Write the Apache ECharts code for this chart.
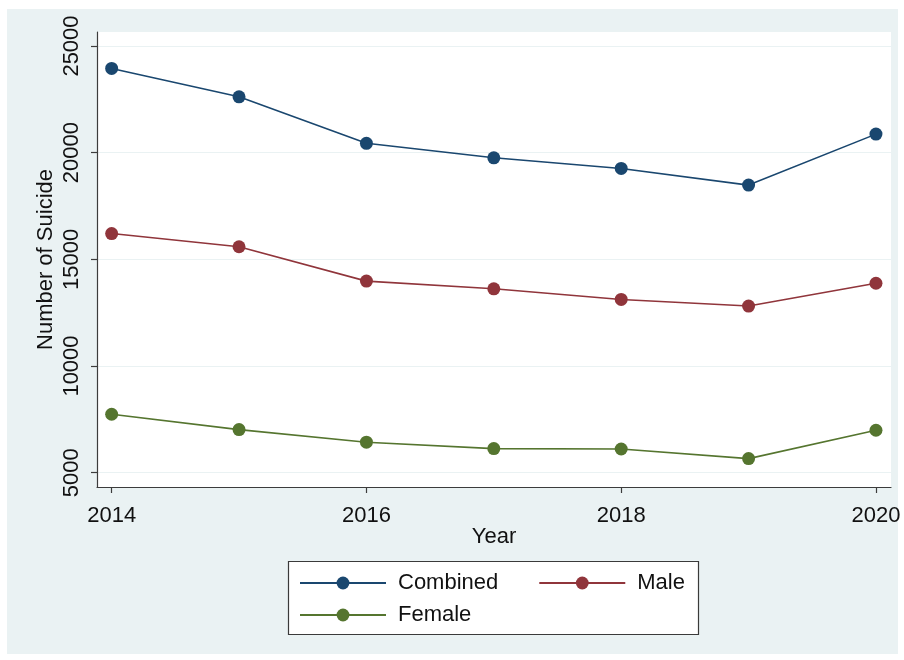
<!DOCTYPE html>
<html>
<head>
<meta charset="utf-8">
<script src="https://cdn.jsdelivr.net/npm/echarts@6/dist/echarts.min.js"></script>
<style>
  html, body { margin: 0; padding: 0; background: #ffffff; }
  #chart { width: 904px; height: 660px; }
</style>
</head>
<body>
<div id="chart"></div>
<script>
// Annual suicide counts, 2014-2020
const years = [2014, 2015, 2016, 2017, 2018, 2019, 2020];
const combined = [23950, 22620, 20440, 19760, 19260, 18480, 20870];
const male = [16210, 15590, 13980, 13620, 13120, 12810, 13880];
const female = [7740, 7020, 6430, 6130, 6110, 5660, 6990];

const xTicks = [2014, 2016, 2018, 2020];
const yTicks = [5000, 10000, 15000, 20000, 25000];

const FONT = '"Liberation Sans", Arial, sans-serif';
const AXIS = '#3c3c3c';

function pairs(vals) { return years.map((y, i) => [y, vals[i]]); }

function lineSeries(name, vals, color) {
  return {
    name: name,
    type: 'line',
    data: pairs(vals),
    symbol: 'circle',
    symbolSize: 13,
    lineStyle: { color: color, width: 1.6 },
    itemStyle: { color: color },
    emphasis: { disabled: true },
    animation: false
  };
}

const legendText = { fontSize: 22, color: '#111', fontFamily: FONT, padding: [0, 0, 0, 7] };

const chart = echarts.init(document.getElementById('chart'), null, { renderer: 'canvas' });
chart.setOption({
  backgroundColor: '#ffffff',
  textStyle: { fontFamily: FONT },
  grid: {
    left: 97, top: 32, right: 13, bottom: 173,
    outerBoundsMode: 'none',
    show: true, backgroundColor: '#ffffff', borderWidth: 0
  },
  xAxis: {
    type: 'value',
    min: 2013.885, max: 2020.118,
    name: 'Year', nameLocation: 'middle', nameGap: 39, nameMoveOverlap: false,
    nameTextStyle: { fontSize: 22, color: '#111', fontFamily: FONT },
    axisLine: { show: true, lineStyle: { color: AXIS, width: 1.2 } },
    axisTick: { show: true, length: 6, customValues: xTicks, lineStyle: { color: AXIS, width: 1.2 } },
    axisLabel: { customValues: xTicks, fontSize: 22, color: '#111', margin: 18, fontFamily: FONT,
                 formatter: v => String(v) },
    splitLine: { show: false }
  },
  yAxis: {
    type: 'value',
    min: 4329, max: 25657,
    name: 'Number of Suicide', nameLocation: 'middle', nameGap: 40, nameRotate: 90, nameMoveOverlap: false,
    nameTextStyle: { fontSize: 22, color: '#111', fontFamily: FONT },
    axisLine: { show: true, lineStyle: { color: AXIS, width: 1.2 } },
    axisTick: { show: true, length: 6, customValues: yTicks, lineStyle: { color: AXIS, width: 1.2 } },
    axisLabel: { customValues: yTicks, rotate: 90, fontSize: 22, color: '#111', margin: 14, fontFamily: FONT,
                 formatter: v => String(v) },
    splitLine: { show: true, lineStyle: { color: '#eaf2f3', width: 1.2 } }
  },
  graphic: [{
    // outer panel behind the plot
    type: 'rect', z: -10,
    shape: { x: 7, y: 9, width: 891, height: 645 },
    style: { fill: '#eaf2f3' }
  }, {
    // legend frame
    type: 'rect', z: -1,
    shape: { x: 288.5, y: 561.5, width: 410, height: 73 },
    style: { fill: '#ffffff', stroke: '#3a3a3a', lineWidth: 1.2 }
  }],
  legend: [{
    data: ['Combined', 'Male'],
    left: 299, top: 572, padding: 0,
    itemWidth: 86, itemHeight: 16, itemGap: 40,
    textStyle: legendText,
    selectedMode: false
  }, {
    data: ['Female'],
    left: 299, top: 604, padding: 0,
    itemWidth: 86, itemHeight: 16,
    textStyle: legendText,
    selectedMode: false
  }],
  series: [
    lineSeries('Combined', combined, '#1a476f'),
    lineSeries('Male', male, '#90353b'),
    lineSeries('Female', female, '#55752f')
  ]
});
</script>
</body>
</html>
